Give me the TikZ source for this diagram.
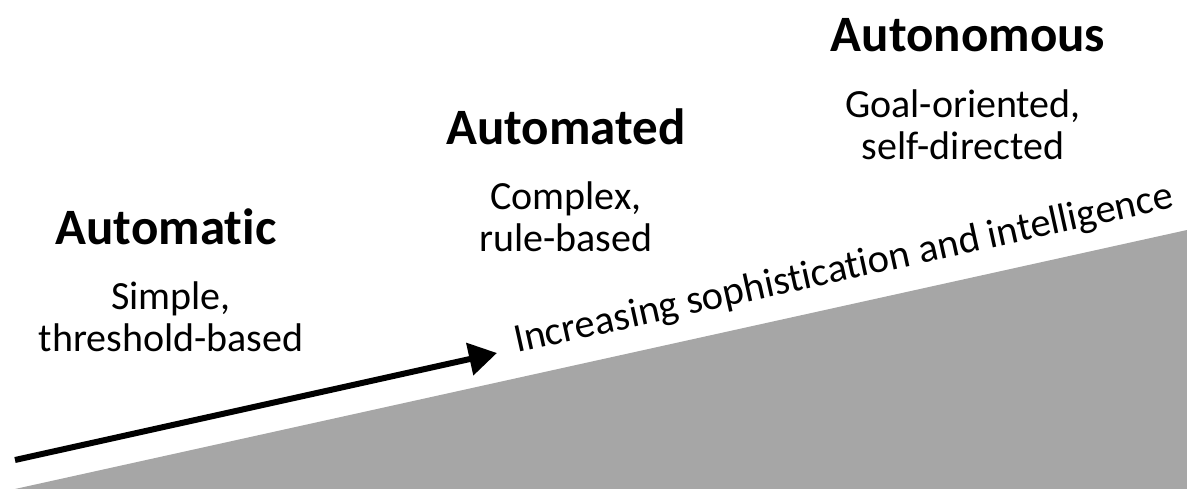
\documentclass[tikz,border=0pt]{standalone}
\usepackage{fontspec}
\setmainfont{Carlito}[Ligatures={NoCommon}]
\usetikzlibrary{arrows.meta}
\definecolor{wedgegray}{HTML}{A6A6A6}
\begin{document}
\begin{tikzpicture}[x=1pt,y=-1pt,
  title/.style={font=\fontsize{51}{60}\selectfont\bfseries, anchor=base, inner sep=0pt},
  desc/.style={font=\fontsize{40}{42}\selectfont, align=center, anchor=base, inner sep=0pt},
  trend/.style={line width=6pt, -{Triangle[length=28pt,width=32pt]}},
]
\useasboundingbox (0,0) rectangle (1187,489);

% grey ramp rising to the right
\fill[wedgegray] (15,489) -- (1187,230) -- (1187,489) -- cycle;

% the three levels (description nodes are placed by their last baseline)
\node[title] (automatic) at (166,245) {Automatic};
\node[desc]  (automaticdesc) at (171,352) {Simple,\\threshold-based};

\node[title] (automated) at (566,145) {Automated};
\node[desc]  (automateddesc) at (566,252) {Complex,\\rule-based};

\node[title] (autonomous) at (968,52) {Autonomous};
\node[desc]  (autonomousdesc) at (963,160) {Goal-oriented,\\self-directed};

% trend arrow and its label along the ramp
\coordinate (arrowstart) at (15,460);
\coordinate (arrowend) at (497,353);
\draw[trend] (arrowstart) -- (arrowend);
\node[font=\fontsize{40.5}{48}\selectfont, rotate=12.46, anchor=base west, inner sep=0pt]
  (trendlabel) at (517,353) {Increasing sophistication and intelligence};
\end{tikzpicture}
\end{document}
